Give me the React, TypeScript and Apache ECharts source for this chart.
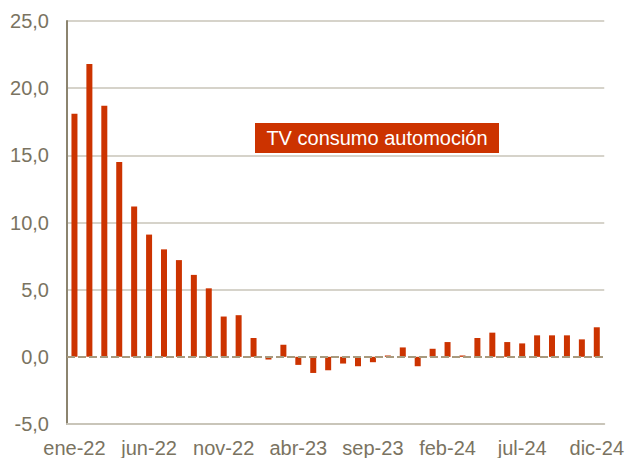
import React, { useEffect, useRef } from "react";
import * as echarts from "echarts";

const categories = [
  "ene-22", "feb-22", "mar-22", "abr-22", "may-22", "jun-22", "jul-22", "ago-22", "sep-22", "oct-22", "nov-22", "dic-22",
  "ene-23", "feb-23", "mar-23", "abr-23", "may-23", "jun-23", "jul-23", "ago-23", "sep-23", "oct-23", "nov-23", "dic-23",
  "ene-24", "feb-24", "mar-24", "abr-24", "may-24", "jun-24", "jul-24", "ago-24", "sep-24", "oct-24", "nov-24", "dic-24",
];

const values = [
  18.1, 21.8, 18.7, 14.5, 11.2, 9.1, 8.0, 7.2, 6.1, 5.1, 3.0, 3.1,
  1.4, -0.2, 0.9, -0.6, -1.2, -1.0, -0.5, -0.7, -0.4, 0.1, 0.7, -0.7,
  0.6, 1.1, 0.1, 1.4, 1.8, 1.1, 1.0, 1.6, 1.6, 1.6, 1.3, 2.2,
];

const seriesName = "TV consumo automoción";

const FONT = "Arial, 'Liberation Sans', sans-serif";
const TEXT = "#7a7361";
const GRID = "#c9c5b9";

export default function App() {
  const ref = useRef<HTMLDivElement>(null);
  useEffect(() => {
    if (!ref.current) return;
    const chart = echarts.init(ref.current, undefined, { renderer: "svg" });
    chart.setOption({
      animation: false,
      backgroundColor: "#ffffff",
      grid: { left: 67, right: 21, top: 21, bottom: 34, containLabel: false },
      xAxis: {
        type: "category",
        data: categories,
        boundaryGap: true,
        axisLine: { onZero: false, lineStyle: { color: GRID, width: 2 } },
        axisTick: { show: false },
        axisLabel: {
          interval: 4,
          color: TEXT,
          fontSize: 20,
          fontFamily: FONT,
          margin: 14,
        },
        splitLine: { show: false },
      },
      yAxis: {
        type: "value",
        min: -5,
        max: 25,
        interval: 5,
        axisLine: { show: true, lineStyle: { color: "#8c846f", width: 2 } },
        axisTick: { show: false },
        axisLabel: {
          color: TEXT,
          fontSize: 20,
          fontFamily: FONT,
          margin: 18,
          formatter: (v: number) => v.toFixed(1).replace(".", ","),
        },
        splitLine: {
          show: true,
          lineStyle: {
            color: [GRID, "rgba(0,0,0,0)", GRID, GRID, GRID, GRID, GRID],
            width: 1.5,
          },
        },
      },
      series: [
        {
          name: seriesName,
          type: "bar",
          data: values,
          barWidth: 6,
          itemStyle: { color: "#cc3300" },
          markLine: {
            silent: true,
            symbol: "none",
            label: { show: false },
            lineStyle: { color: "#a89a7e", type: [8, 3], width: 2 },
            data: [{ yAxis: 0 }],
            z: 5,
          },
        },
      ],
      graphic: [
        {
          type: "group",
          left: 255,
          top: 123,
          children: [
            {
              type: "rect",
              shape: { x: 0, y: 0, width: 244, height: 30 },
              style: { fill: "#cc3300" },
            },
            {
              type: "text",
              x: 122,
              y: 15,
              style: {
                text: seriesName,
                fill: "#ffffff",
                fontSize: 20,
                fontFamily: FONT,
                align: "center",
                verticalAlign: "middle",
              },
            },
          ],
        },
      ],
    });
    return () => chart.dispose();
  }, []);
  return <div ref={ref} style={{ width: 627, height: 458, position: "absolute", left: 0, top: 0 }} />;
}
